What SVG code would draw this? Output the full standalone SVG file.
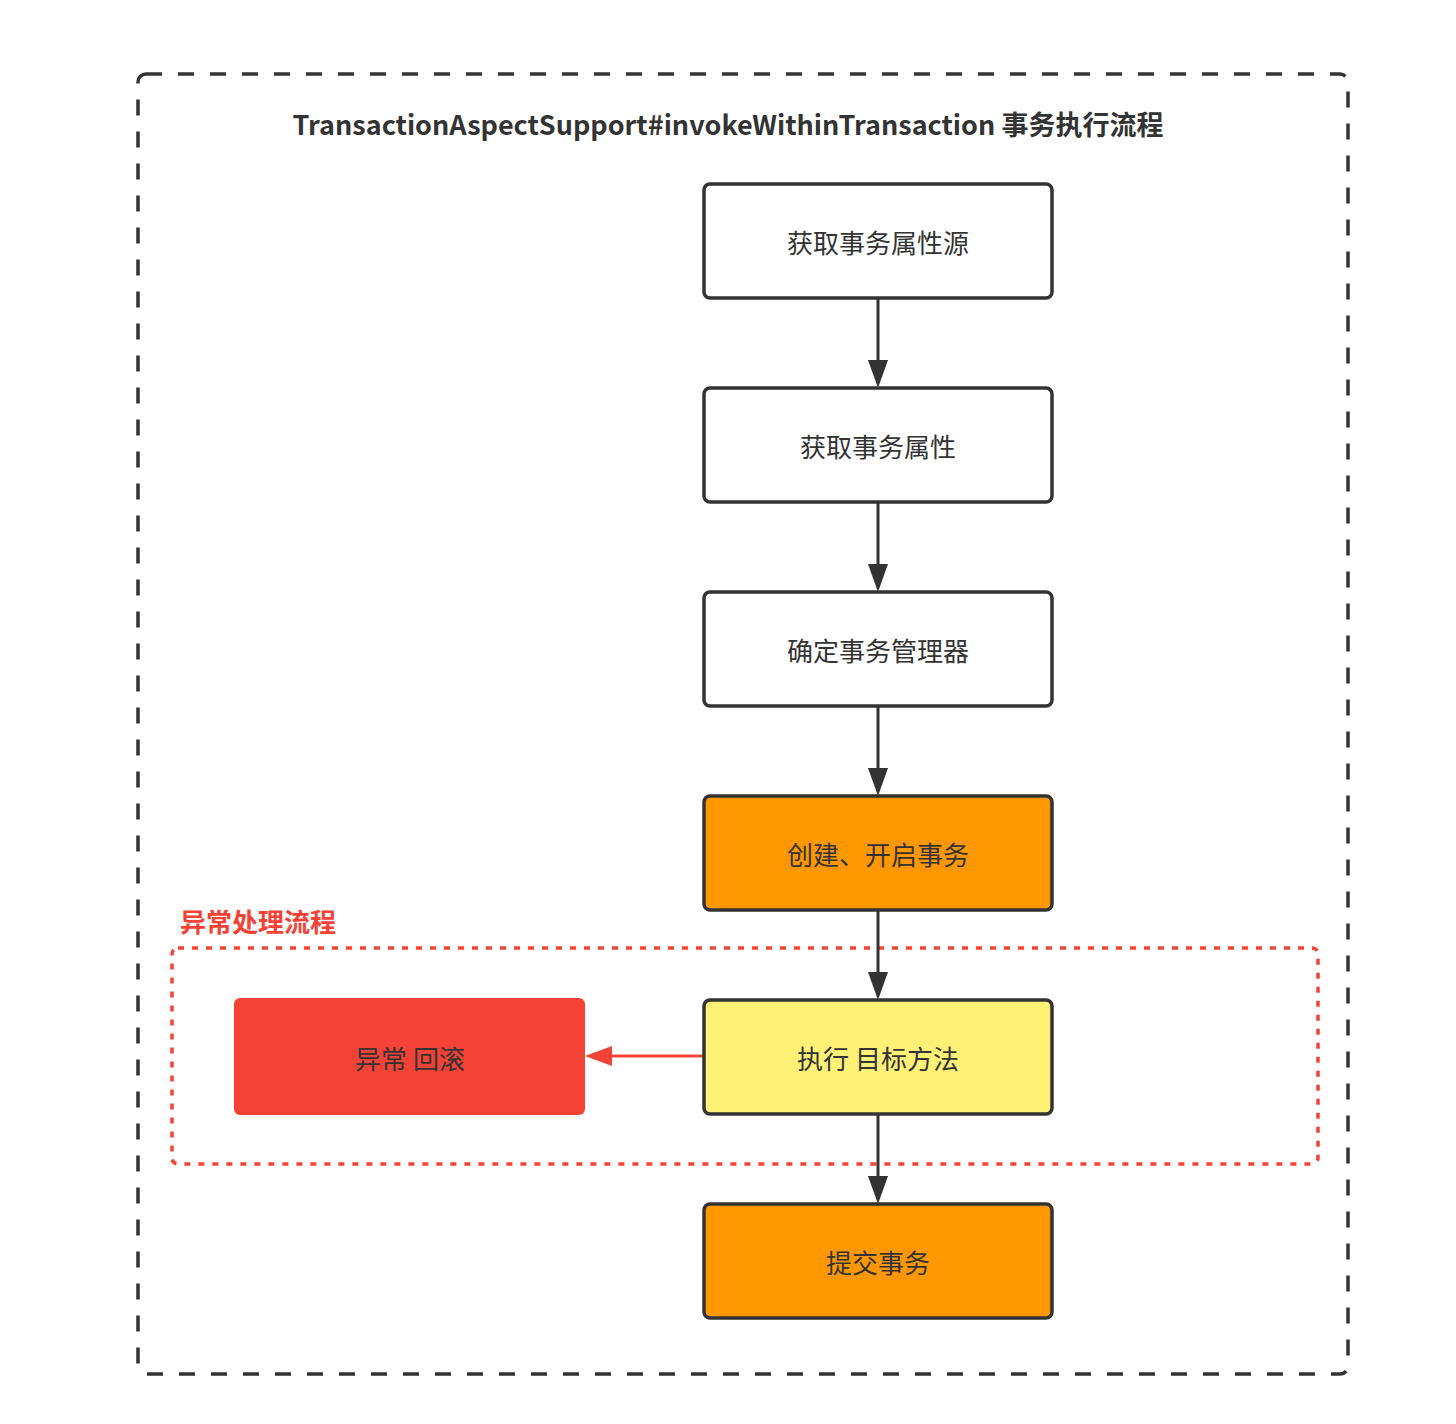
<svg xmlns="http://www.w3.org/2000/svg" width="1456" height="1424" viewBox="0 0 1456 1424">
<style>
.node{stroke:#333;stroke-width:3.5}
.lbl{font-family:"Noto Sans CJK SC","Noto Sans",sans-serif;font-size:26px;fill:#333;text-anchor:middle;dominant-baseline:central}
.conn{stroke:#333;stroke-width:3;fill:none}
</style>
<rect width="1456" height="1424" fill="#fff"/>
<g id="frame">
<rect x="138" y="74" width="1210" height="1300" rx="8" fill="none" stroke="#333" stroke-width="3.5" stroke-dasharray="16 16"/>
<text x="728" y="123" font-family="'Noto Sans CJK SC','Noto Sans',sans-serif" font-size="27" font-weight="bold" fill="#333" text-anchor="middle" dominant-baseline="central">TransactionAspectSupport#invokeWithinTransaction 事务执行流程</text>
</g>
<g id="exception-group">
<rect x="172" y="948" width="1146" height="216" rx="6" fill="none" stroke="#f44336" stroke-width="3.5" stroke-dasharray="6 8"/>
<text x="180" y="920" font-family="'Noto Sans CJK SC','Noto Sans',sans-serif" font-size="26" font-weight="bold" fill="#f44336" dominant-baseline="central">异常处理流程</text>
</g>
<g id="connectors">
<line class="conn" x1="878" y1="298" x2="878" y2="360"/>
<path d="M868,360 L888,360 L878,388 Z" fill="#333"/>
<line class="conn" x1="878" y1="502" x2="878" y2="564"/>
<path d="M868,564 L888,564 L878,592 Z" fill="#333"/>
<line class="conn" x1="878" y1="706" x2="878" y2="768"/>
<path d="M868,768 L888,768 L878,796 Z" fill="#333"/>
<line class="conn" x1="878" y1="910" x2="878" y2="972"/>
<path d="M868,972 L888,972 L878,1000 Z" fill="#333"/>
<line class="conn" x1="878" y1="1114" x2="878" y2="1176"/>
<path d="M868,1176 L888,1176 L878,1204 Z" fill="#333"/>
<line x1="703" y1="1056" x2="610" y2="1056" stroke="#f44336" stroke-width="3"/>
<path d="M585,1056 L612,1046 L612,1066 Z" fill="#f44336"/>
</g>
<g id="n1">
<rect class="node" x="704" y="184" width="348" height="114" rx="6" fill="#fff"/>
<text class="lbl" x="878" y="241">获取事务属性源</text>
</g>
<g id="n2">
<rect class="node" x="704" y="388" width="348" height="114" rx="6" fill="#fff"/>
<text class="lbl" x="878" y="445">获取事务属性</text>
</g>
<g id="n3">
<rect class="node" x="704" y="592" width="348" height="114" rx="6" fill="#fff"/>
<text class="lbl" x="878" y="649">确定事务管理器</text>
</g>
<g id="n4">
<rect class="node" x="704" y="796" width="348" height="114" rx="6" fill="#ff9800"/>
<text class="lbl" x="878" y="853">创建、开启事务</text>
</g>
<g id="n5">
<rect class="node" x="704" y="1000" width="348" height="114" rx="6" fill="#fff176"/>
<text class="lbl" x="878" y="1057">执行 目标方法</text>
</g>
<g id="n6">
<rect class="node" x="704" y="1204" width="348" height="114" rx="6" fill="#ff9800"/>
<text class="lbl" x="878" y="1261">提交事务</text>
</g>
<g id="rollback">
<rect x="234" y="998" width="351" height="117" rx="6" fill="#f44336"/>
<text class="lbl" x="410" y="1057">异常 回滚</text>
</g>
</svg>
